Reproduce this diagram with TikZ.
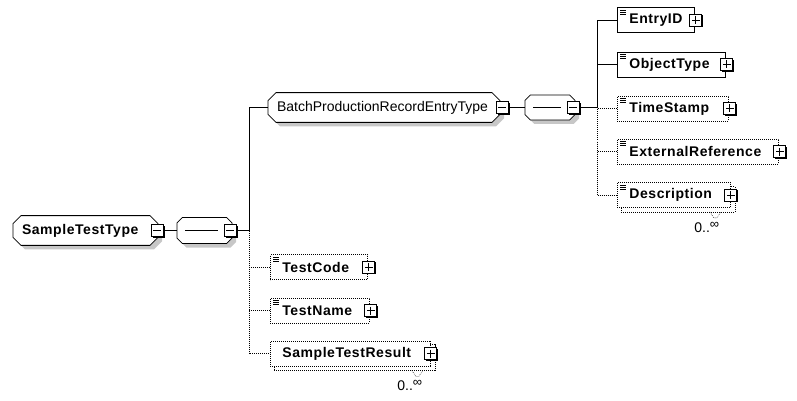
\documentclass[tikz,border=0pt]{standalone}
\usepackage{fontspec}
\setmainfont{Liberation Sans}
\newfontfamily\elemfont{Liberation Sans}[LetterSpace=4]
\usetikzlibrary{shapes.misc, shadows, backgrounds, positioning}

\tikzset{
    % complex types and compositors
    ctype/.style={chamfered rectangle, chamfered rectangle xsep=3pt,
        chamfered rectangle ysep=5pt, draw, fill=white, minimum height=26pt,
        inner xsep=2pt, align=left,
        drop shadow={shadow xshift=4pt, shadow yshift=-4pt, fill=black!22, opacity=1}},
    seqbox/.style={ctype, chamfered rectangle xsep=7pt, chamfered rectangle ysep=8pt,
        path picture={\draw ([xshift=8pt]path picture bounding box.west)
            -- ([xshift=-14pt]path picture bounding box.east);}},
    % elements
    elem/.style={draw, fill=white, rectangle, minimum height=25pt, inner xsep=12pt,
        align=left, font=\fontsize{14}{16}\elemfont\bfseries},
    attr/.style={path picture={\foreach \k in {2.5,4.5,6.5}
        \draw[line width=0.6pt, solid] ([shift={(3,\k)}]path picture bounding box.north west) -- ++(6,0);}},
    opt/.style={dash pattern=on 0.9pt off 1.1pt},
    % expand buttons
    btn/.style={draw, solid, fill=white, rectangle, minimum size=12pt, inner sep=0pt,
        drop shadow={shadow xshift=1.3pt, shadow yshift=-1.3pt, fill=black, opacity=1}},
    minusbtn/.style={btn, path picture={\draw ([xshift=2pt]path picture bounding box.west)
        -- ([xshift=-2pt]path picture bounding box.east);}},
    plusbtn/.style={btn, path picture={\draw ([xshift=2pt]path picture bounding box.west)
        -- ([xshift=-2pt]path picture bounding box.east);
        \draw ([yshift=-2pt]path picture bounding box.north)
        -- ([yshift=2pt]path picture bounding box.south);}},
    occurs/.style={inner sep=0pt, font=\fontsize{14}{16}\selectfont}
}

\begin{document}
\begin{tikzpicture}[x=1pt, y=-1pt, line width=0.8pt, font=\fontsize{14}{16}\selectfont]
    \useasboundingbox (0,0) rectangle (797,401);

    % Root type and its sequence
    \node[ctype, minimum width=145pt, text width=127pt] (stt) at (85.5,230.5) {\elemfont\bfseries SampleTestType};
    \node[minusbtn] (stt-btn) at ([xshift=-1pt]stt.east) {};
    \node[seqbox, minimum width=55pt] (seq1) at (204.5,230.5) {};
    \node[minusbtn] (seq1-btn) at ([xshift=-2pt]seq1.east) {};
    \draw (stt-btn) -- (seq1);

    % Children of the root sequence
    \node[ctype, minimum width=232pt, minimum height=25pt, text width=214pt] (bpr) at (384,107.5) {BatchProductionRecordEntryType};
    \node[minusbtn] (bpr-btn) at ([xshift=2pt]bpr.east) {};
    \node[elem, opt, attr, anchor=west, text width=73pt] (tcode) at (270,267) {TestCode};
    \node[plusbtn] (tcode-btn) at ([xshift=1pt]tcode.east) {};
    \node[elem, opt, attr, anchor=west, text width=75pt] (tname) at (270,310.5) {TestName};
    \node[plusbtn] (tname-btn) at ([xshift=1pt]tname.east) {};
    \node[elem, opt, anchor=west, text width=136pt] (str) at (270,353.5) {SampleTestResult};
    \node[plusbtn] (str-btn) at ([xshift=0pt]str.east) {};
    \node[occurs] (str-occ) at ([shift={(-21,19)}]str.south east) {0..\raisebox{4pt}{\fontsize{13}{13}\selectfont ∞}};

    % Connectors on the left
    \coordinate (lbus) at (249,230.5);
    \draw (seq1-btn) -- (lbus);
    \draw (lbus) |- (bpr.west);
    \draw[opt] (lbus) |- (str.west);
    \draw[opt] (tcode.west) -- (tcode.west -| lbus);
    \draw[opt] (tname.west) -- (tname.west -| lbus);

    % Inner sequence of the entry type
    \node[seqbox, minimum width=50pt, minimum height=25pt] (seq2) at (550,107.5) {};
    \node[minusbtn] (seq2-btn) at ([xshift=-2pt]seq2.east) {};
    \draw (bpr-btn) -- (seq2);

    \node[elem, attr, anchor=west, text width=53pt] (entry) at (617,20) {EntryID};
    \node[plusbtn] (entry-btn) at ([xshift=1pt]entry.east) {};
    \node[elem, attr, anchor=west, text width=84pt] (objt) at (617,64.5) {ObjectType};
    \node[plusbtn] (objt-btn) at ([xshift=1pt]objt.east) {};
    \node[elem, opt, attr, anchor=west, text width=87pt] (tstamp) at (617,108.5) {TimeStamp};
    \node[plusbtn] (tstamp-btn) at ([xshift=1pt]tstamp.east) {};
    \node[elem, opt, attr, anchor=west, text width=137pt] (extref) at (617,151.5) {ExternalReference};
    \node[plusbtn] (extref-btn) at ([xshift=1pt]extref.east) {};
    \node[elem, opt, attr, anchor=west, text width=89pt] (desc) at (617,195) {Description};
    \node[plusbtn] (desc-btn) at ([xshift=0pt]desc.east) {};
    \node[occurs] (desc-occ) at ([shift={(-24,19.5)}]desc.south east) {0..\raisebox{4pt}{\fontsize{13}{13}\selectfont ∞}};

    % Connectors on the right
    \coordinate (rbus) at (597,107.5);
    \draw (seq2-btn) -- (rbus);
    \draw (rbus) |- (entry.west);
    \draw (objt.west) -- (objt.west -| rbus);
    \draw[opt] (rbus) |- (desc.west);
    \draw[opt] (tstamp.west) -- (tstamp.west -| rbus);
    \draw[opt] (extref.west) -- (extref.west -| rbus);

    % Repeated elements
    \begin{scope}[on background layer]
        \draw[opt, fill=white] ([shift={(4,4)}]desc.north west) rectangle ([shift={(4,4)}]desc.south east);
        \draw[opt] ([shift={(-21,4)}]desc.south east) -- ++(4,6) -- ++(3,0) -- ++(4,-6);
        \draw[opt, fill=white] ([shift={(4,4)}]str.north west) rectangle ([shift={(4,4)}]str.south east);
        \draw[opt] ([shift={(-19,4)}]str.south east) -- ++(4,6) -- ++(3,0) -- ++(4,-6);
    \end{scope}
\end{tikzpicture}
\end{document}
